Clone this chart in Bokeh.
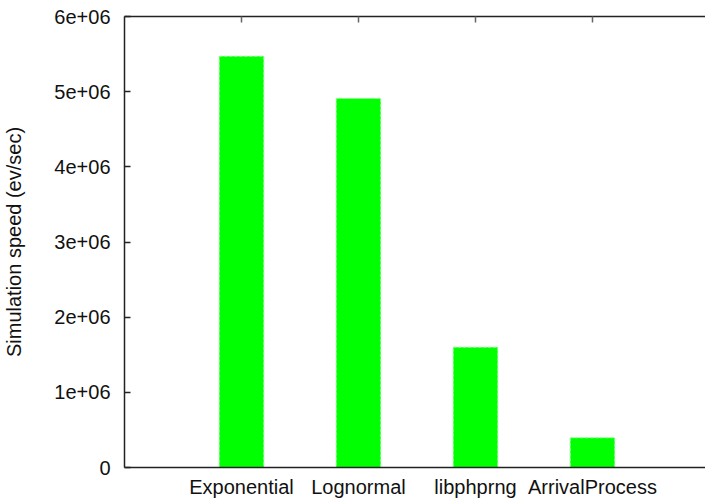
from bokeh.plotting import figure
from bokeh.models import Range1d, FixedTicker, LinearAxis, ColumnDataSource
from bokeh.embed import file_html
from bokeh.resources import INLINE

categories = ["Exponential", "Lognormal", "libphprng", "ArrivalProcess"]
positions = [1, 2, 3, 4]
speeds = [5.47e6, 4.91e6, 1.60e6, 0.395e6]
y_ticks = [0, 1e6, 2e6, 3e6, 4e6, 5e6, 6e6]
y_tick_labels = ["0", "1e+06", "2e+06", "3e+06", "4e+06", "5e+06", "6e+06"]

FONT = "Liberation Sans"
FS = "20px"
INK = "#111111"

p = figure(width=705, height=500, output_backend="svg", toolbar_location=None,
           x_range=Range1d(0, 4.966), y_range=Range1d(0, 6e6),
           min_border_left=119, min_border_right=0, min_border_top=16, min_border_bottom=33,
           x_axis_location=None, y_axis_location=None)
p.outline_line_color = None
p.xgrid.visible = False
p.ygrid.visible = False
p.background_fill_color = "white"
p.border_fill_color = "white"

src = ColumnDataSource(dict(x=positions, top=speeds))
p.vbar(x="x", top="top", width=0.38, bottom=0, source=src,
       fill_color="#00ff00", line_color="#88ff88", line_dash="3 2", line_width=1)

# left axis
yax = LinearAxis(ticker=FixedTicker(ticks=y_ticks),
                 major_label_overrides={t: l for t, l in zip(y_ticks, y_tick_labels)},
                 axis_label="Simulation speed (ev/sec)")
yax.major_tick_in = 6
yax.major_tick_out = 0
yax.minor_tick_in = 0
yax.minor_tick_out = 0
yax.major_label_standoff = 14
yax.axis_label_standoff = 26
yax.major_label_text_font = FONT
yax.major_label_text_font_size = FS
yax.major_label_text_color = INK
yax.axis_label_text_font = FONT
yax.axis_label_text_font_size = FS
yax.axis_label_text_font_style = "normal"
yax.axis_label_text_color = INK
yax.axis_line_width = 1.5
yax.axis_line_color = "#222222"
yax.major_tick_line_color = "#222222"
yax.major_tick_line_width = 1.5
p.add_layout(yax, "left")

# bottom axis
xax = LinearAxis(ticker=FixedTicker(ticks=positions),
                 major_label_overrides={pp: c for pp, c in zip(positions, categories)})
xax.major_tick_in = 0
xax.major_tick_out = 0
xax.minor_tick_in = 0
xax.minor_tick_out = 0
xax.major_label_standoff = 8
xax.major_label_text_font = FONT
xax.major_label_text_font_size = FS
xax.major_label_text_color = INK
xax.major_label_text_line_height = 1.0
xax.axis_line_width = 1.5
xax.axis_line_color = "#222222"
p.add_layout(xax, "below")

# top border with mirrored ticks
tax = LinearAxis(ticker=FixedTicker(ticks=positions))
tax.major_label_text_alpha = 0
tax.major_label_text_font_size = "1px"
tax.major_label_standoff = 0
tax.major_tick_in = 6
tax.major_tick_out = 0
tax.minor_tick_in = 0
tax.minor_tick_out = 0
tax.axis_line_width = 1.5
tax.axis_line_color = "#222222"
tax.major_tick_line_color = "#666666"
tax.major_tick_line_width = 1.5
p.add_layout(tax, "above")

open("out.html", "w").write(file_html(p, INLINE))
